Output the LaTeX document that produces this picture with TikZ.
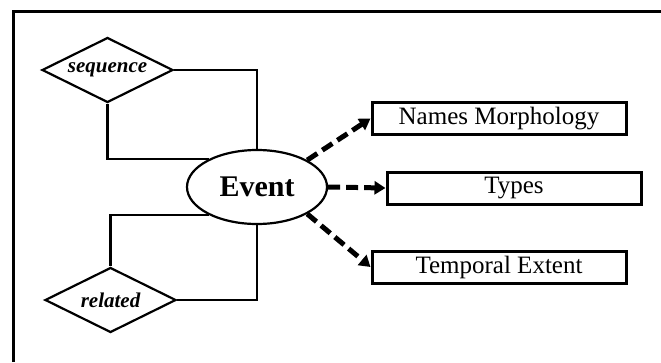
\documentclass[tikz,border=0pt]{standalone}
\usepackage{fontspec}
\setmainfont{Liberation Serif}
\usetikzlibrary{shapes.geometric,arrows.meta}

\tikzset{
  relbox/.style={draw, diamond, line width=2.2pt, inner sep=0pt, aspect=2,
    minimum width=131pt, minimum height=65pt,
    font=\fontsize{21}{24}\selectfont\bfseries\itshape},
  entity/.style={draw, ellipse, line width=2.2pt, inner sep=0pt,
    minimum width=140pt, minimum height=74pt,
    font=\fontsize{30}{34}\selectfont\bfseries},
  attrbox/.style={draw, rectangle, line width=3pt, inner sep=0pt,
    minimum width=254pt, minimum height=32pt,
    font=\fontsize{25}{28}\selectfont},
  link/.style={line width=2.2pt},
  attrarrow/.style={line width=5pt, dash pattern=on 12pt off 6pt,
    -{Triangle[length=11pt,width=13pt]}},
}

\begin{document}
\begin{tikzpicture}[x=1pt,y=-1pt]
  \useasboundingbox (0,0) rectangle (661,362);
  % frame lines along the top and left
  \draw[line width=2.8pt] (13.8,362) -- (13.8,11.5) -- (661,11.5);

  \node[entity] (ev) at (257,187) {Event};
  \node[relbox] (seq) at (107.5,70) {sequence};
  \node[relbox] (rel) at (110.5,300) {related};

  \node[attrbox] (nm) at (499,118.5) {Names Morphology};
  \node[attrbox] (ty) at (514,188) {Types};
  \node[attrbox] (te) at (499,267) {Temporal Extent};

  % relationship connectors
  \draw[link] (seq.east) -| (ev.north);
  \draw[link] (seq.south) |- (ev.150);
  \draw[link] (ev.210) -| (rel.north);
  \draw[link] (rel.east) -| (ev.south);

  % attribute arrows
  \draw[attrarrow] (ev.north east) -- (nm.west);
  \draw[attrarrow] (ev.east) -- (ty.west);
  \draw[attrarrow] (ev.south east) -- (te.west);
\end{tikzpicture}
\end{document}
